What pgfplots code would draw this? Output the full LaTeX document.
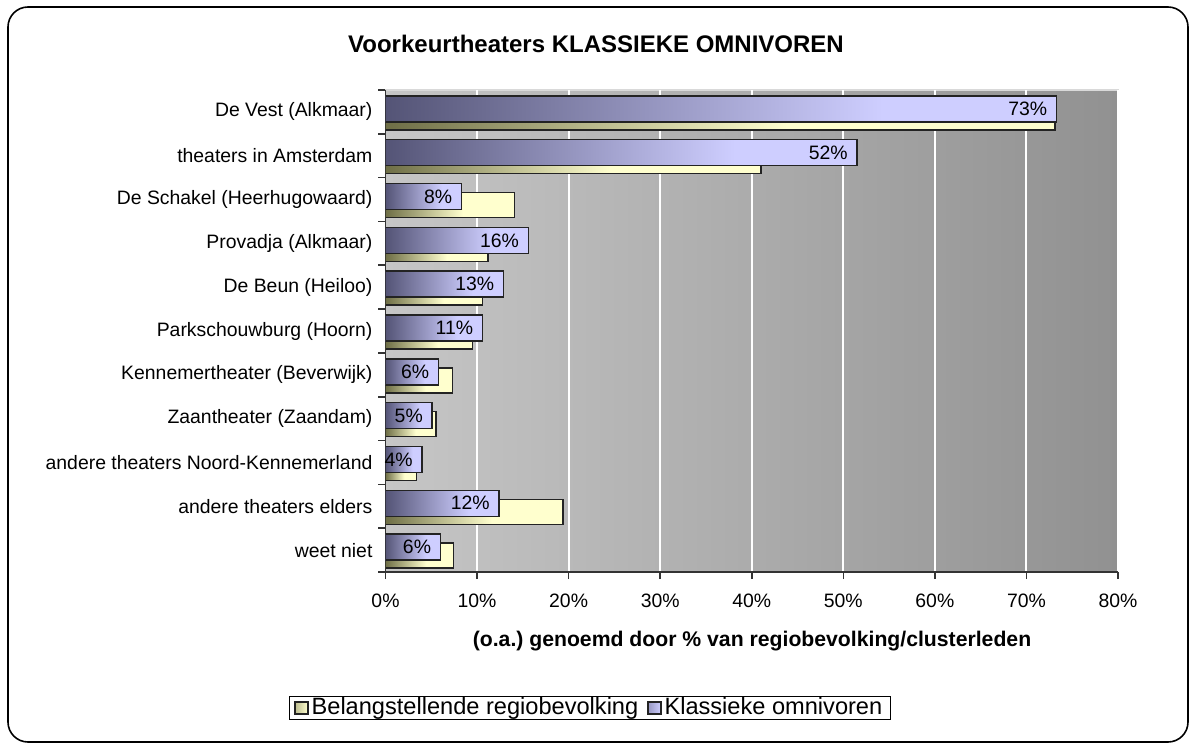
\documentclass[border=0pt]{standalone}
\usepackage{pgfplots}
\pgfplotsset{compat=1.18}
\usepackage{fontspec}
\setmainfont{Liberation Sans}
\definecolor{bgL}{RGB}{198,198,198}
\definecolor{bgR}{RGB}{145,145,145}
\definecolor{puL}{RGB}{84,84,118}
\definecolor{puR}{RGB}{206,206,255}
\definecolor{yeL}{RGB}{110,110,70}
\definecolor{yeR}{RGB}{255,255,206}
\definecolor{edge}{RGB}{35,35,35}
\pgfdeclarehorizontalshading{pushade}{100bp}{color(0bp)=(puL); color(25bp)=(puL); color(62bp)=(puR); color(100bp)=(puR)}
\pgfdeclarehorizontalshading{yeshade}{100bp}{color(0bp)=(yeL); color(25bp)=(yeL); color(55bp)=(yeR); color(100bp)=(yeR)}
\pgfplotsset{
  ybel/.style={xbar, draw=edge, line width=0.75pt, shade, shading=yeshade, bar width=12.5pt, bar shift=-2.75pt,
    legend image code/.code={\draw[draw=edge, line width=0.6pt, left color=yeL!45!yeR, right color=yeR] (0pt,-3pt) rectangle (6.5pt,3pt);}},
  ykla/.style={xbar, draw=edge, line width=0.75pt, shade, shading=pushade, bar width=13pt, bar shift=1.5pt,
    legend image code/.code={\draw[draw=edge, line width=0.6pt, left color=puL!45!puR, right color=puR] (0pt,-3pt) rectangle (6.5pt,3pt);},
    point meta=x,
    nodes near coords={\pgfmathprintnumber[fixed,precision=0]{\pgfplotspointmeta}\%},
    every node near coord/.append style={anchor=east, xshift=-1pt, yshift=1.5pt, font=\fontsize{9.7}{11}\selectfont, text=black}},
}
\begin{document}
\begin{tikzpicture}
\useasboundingbox (0pt,0pt) rectangle (595pt,-372pt);
\draw[rounded corners=10pt, line width=0.8pt] (4pt,-3.5pt) rectangle (594pt,-371pt);
\node[font=\bfseries\fontsize{12}{14}\selectfont] at (298pt,-22pt) {Voorkeurtheaters KLASSIEKE OMNIVOREN};
\node[font=\bfseries\fontsize{10.6}{12}\selectfont] at (376pt,-320.5pt) {(o.a.)\ genoemd door \% van regiobevolking/clusterleden};
\begin{axis}[
  at={(192.75pt,-45pt)}, anchor=north west,
  scale only axis, width=366.25pt, height=241pt,
  xmin=0, xmax=80, ymin=-0.5, ymax=10.5, y dir=reverse,
  axis lines=left, axis line style={-, draw=black!80, line width=0.8pt},
  axis background/.style={left color=bgL, right color=bgR, draw=black!15, line width=0.8pt},
  xtick={0,10,...,80},
  xticklabel={\pgfmathprintnumber{\tick}\%},
  /pgf/number format/assume math mode=true,
  xmajorgrids, grid style={white, line width=1pt},
  major tick length=3.5pt, tick align=outside,
  tick style={black!80, line width=0.8pt},
  ytick={-0.5,0.5,...,10.5}, yticklabels={},
  extra y ticks={0,1,2,3,4,5,6,7,8,9,10},
  extra y tick labels={De Vest (Alkmaar),theaters in Amsterdam,De Schakel (Heerhugowaard),Provadja (Alkmaar),De Beun (Heiloo),Parkschouwburg (Hoorn),Kennemertheater (Beverwijk),Zaantheater (Zaandam),andere theaters Noord-Kennemerland,andere theaters elders,weet niet},
  extra y tick style={major tick length=0pt},
  ticklabel style={font=\fontsize{9.7}{11}\selectfont, text=black},
  yticklabel style={xshift=-3pt},
  xticklabel style={yshift=-4pt},
  legend style={at={(0.279,-0.282)}, anchor=center, legend columns=2,
    draw=black, line width=0.6pt, fill=white, inner xsep=2.5pt, inner ysep=0.3pt,
    nodes={inner xsep=1.5pt, inner ysep=0.4pt},
    font=\fontsize{11.8}{13}\selectfont,
    /tikz/every even column/.append style={column sep=3pt}},
]
% Belangstellende regiobevolking
\addplot[ybel] coordinates {(73.1,0)};
\addlegendentry{Belangstellende regiobevolking}
\addplot[ybel, forget plot] coordinates {(41.0,1)};
\addplot[ybel, forget plot] coordinates {(14.1,2)};
\addplot[ybel, forget plot] coordinates {(11.2,3)};
\addplot[ybel, forget plot] coordinates {(10.6,4)};
\addplot[ybel, forget plot] coordinates {(9.5,5)};
\addplot[ybel, forget plot] coordinates {(7.3,6)};
\addplot[ybel, forget plot] coordinates {(5.5,7)};
\addplot[ybel, forget plot] coordinates {(3.4,8)};
\addplot[ybel, forget plot] coordinates {(19.4,9)};
\addplot[ybel, forget plot] coordinates {(7.4,10)};
% Klassieke omnivoren
\addplot[ykla] coordinates {(73.3,0)};
\addlegendentry{Klassieke omnivoren}
\addplot[ykla, forget plot] coordinates {(51.5,1)};
\addplot[ykla, forget plot] coordinates {(8.3,2)};
\addplot[ykla, forget plot] coordinates {(15.6,3)};
\addplot[ykla, forget plot] coordinates {(12.9,4)};
\addplot[ykla, forget plot] coordinates {(10.6,5)};
\addplot[ykla, forget plot] coordinates {(5.8,6)};
\addplot[ykla, forget plot] coordinates {(5.1,7)};
\addplot[ykla, forget plot] coordinates {(4.0,8)};
\addplot[ykla, forget plot] coordinates {(12.4,9)};
\addplot[ykla, forget plot] coordinates {(6.0,10)};
\end{axis}
\end{tikzpicture}
\end{document}
